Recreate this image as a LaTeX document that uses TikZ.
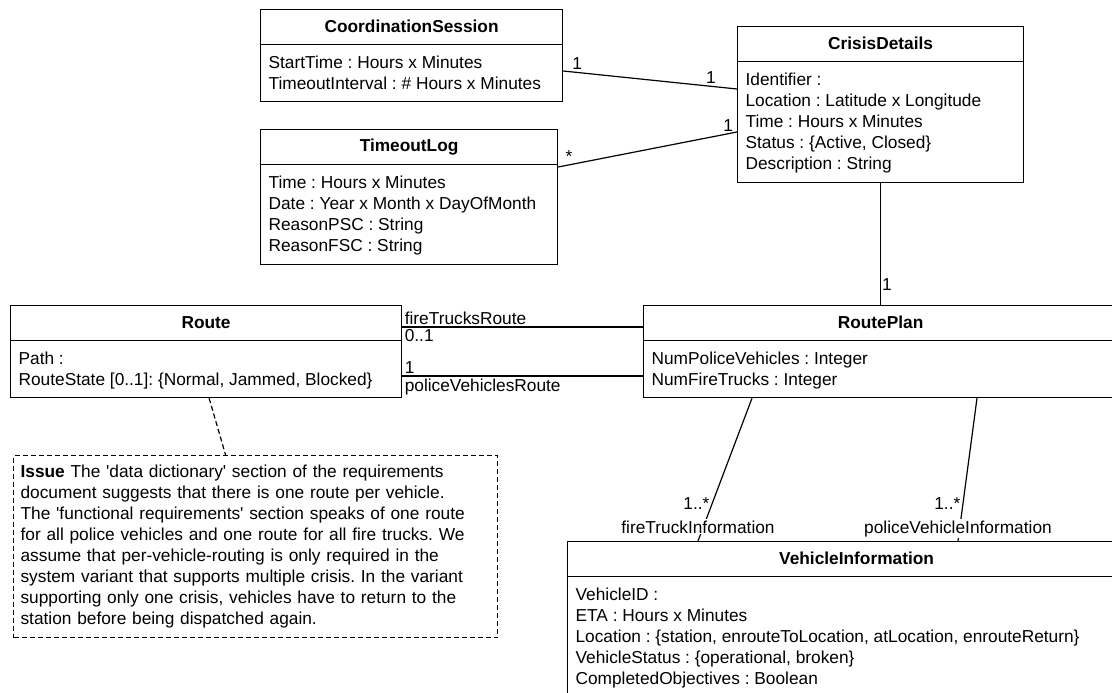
\documentclass[tikz,border=0pt]{standalone}
\usepackage{fontspec}
\setmainfont{Liberation Sans}
\usetikzlibrary{positioning}

\newcommand{\umlfont}{\fontsize{17.3}{21}\selectfont\frenchspacing}
\newcommand{\sq}{\textquotesingle}

\tikzset{
  classbox/.style={draw, line width=1.2pt, anchor=north west, inner sep=0pt},
  classtitle/.style={anchor=north, inner sep=0pt, minimum height=35pt, font=\umlfont\bfseries},
  classattrs/.style={anchor=north west, align=left, inner xsep=8pt, inner ysep=11pt, font=\umlfont},
  assoc/.style={line width=1.2pt},
  lbl/.style={font=\umlfont, inner sep=2pt},
  notebox/.style={draw, line width=1.2pt, dash pattern=on 5pt off 3pt, anchor=north west,
    align=left, text width=470pt, inner xsep=7pt, minimum height=182pt, font=\umlfont},
}

% 类框: 名称, x, y, 宽, 高, 类名, 属性
\newcommand{\umlclass}[7]{%
  \node[classbox, minimum width=#4pt, minimum height=#5pt] (#1) at (#2,#3) {};
  \node[classtitle, minimum width=#4pt] (#1-title) at (#1.north) {#6};
  \draw[line width=1.2pt] (#1-title.south west) -- (#1-title.south east);
  \node[classattrs] (#1-attrs) at (#1-title.south west) {#7};
}

\begin{document}
\begin{tikzpicture}[x=1pt, y=-1pt]
    \useasboundingbox (0,0) rectangle (1112,693);
    \fill[white] (0,0) rectangle (1112,693);

    % 绘制类
    \umlclass{coord}{260}{9}{302}{92}{CoordinationSession}
      {StartTime : Hours x Minutes\\TimeoutInterval : \# Hours x Minutes}
    \umlclass{crisis}{737}{26}{286}{156}{CrisisDetails}
      {Identifier :\\Location : Latitude x Longitude\\Time : Hours x Minutes\\Status : \{Active, Closed\}\\Description : String}
    \umlclass{tlog}{260}{129}{297}{135}{TimeoutLog}
      {Time : Hours x Minutes\\Date : Year x Month x DayOfMonth\\ReasonPSC : String\\ReasonFSC : String}
    \umlclass{route}{10}{305}{391}{92}{Route}
      {Path :\\RouteState [0..1]: \{Normal, Jammed, Blocked\}}
    \umlclass{plan}{643}{305}{474}{92}{RoutePlan}
      {NumPoliceVehicles : Integer\\NumFireTrucks : Integer}
    \umlclass{vinfo}{567}{541}{578}{170}{VehicleInformation}
      {VehicleID :\\ETA : Hours x Minutes\\Location : \{station, enrouteToLocation, atLocation, enrouteReturn\}\\VehicleStatus : \{operational, broken\}\\CompletedObjectives : Boolean}

    % 注释
    \node[notebox] (issue) at (13,455) {\textbf{Issue} The \sq data dictionary\sq{} section of the requirements\\
      document suggests that there is one route per vehicle.\\
      The \sq functional requirements\sq{} section speaks of one route\\
      for all police vehicles and one route for all fire trucks. We\\
      assume that per-vehicle-routing is only required in the\\
      system variant that supports multiple crisis. In the variant\\
      supporting only one crisis, vehicles have to return to the\\
      station before being dispatched again.};
    \draw[line width=1.2pt, dash pattern=on 5pt off 3pt] ([xshift=3pt]route.south) -- ([xshift=-30pt]issue.north);

    % 关联
    \draw[assoc] (coord.east |- 0,71) -- (crisis.west |- 0,89)
      node[lbl, pos=0.08, anchor=south] {1}
      node[lbl, pos=0.85, anchor=south] {1};
    \draw[assoc] (tlog.east |- 0,167) -- (crisis.west |- 0,132)
      node[lbl, pos=0.06, anchor=south] {*}
      node[lbl, pos=0.95, anchor=south] {1};
    \draw[assoc] (crisis.south) -- (crisis.south |- plan.north)
      node[lbl, pos=0.83, anchor=west, inner sep=1pt] {1};
    \draw[assoc] (route.east |- 0,327) -- (plan.west |- 0,327)
      node[lbl, pos=0, anchor=south west] {fireTrucksRoute}
      node[lbl, pos=0, anchor=north west] {0..1};
    \draw[assoc] (route.east |- 0,376) -- (plan.west |- 0,376)
      node[lbl, pos=0, anchor=south west] {1}
      node[lbl, pos=0, anchor=north west] {policeVehiclesRoute};
    \draw[assoc] (plan.south -| 752,0) -- (vinfo.north -| 698,0)
      node[lbl, pos=0.74, anchor=east] {1..*}
      node[lbl, pos=1, anchor=base, yshift=8pt, fill=white, inner sep=1pt] {fireTruckInformation};
    \draw[assoc] (plan.south -| 977,0) -- (vinfo.north -| 958,0)
      node[lbl, pos=0.74, anchor=east] {1..*}
      node[lbl, pos=1, anchor=base, yshift=8pt, fill=white, inner sep=1pt] {policeVehicleInformation};

\end{tikzpicture}
\end{document}
